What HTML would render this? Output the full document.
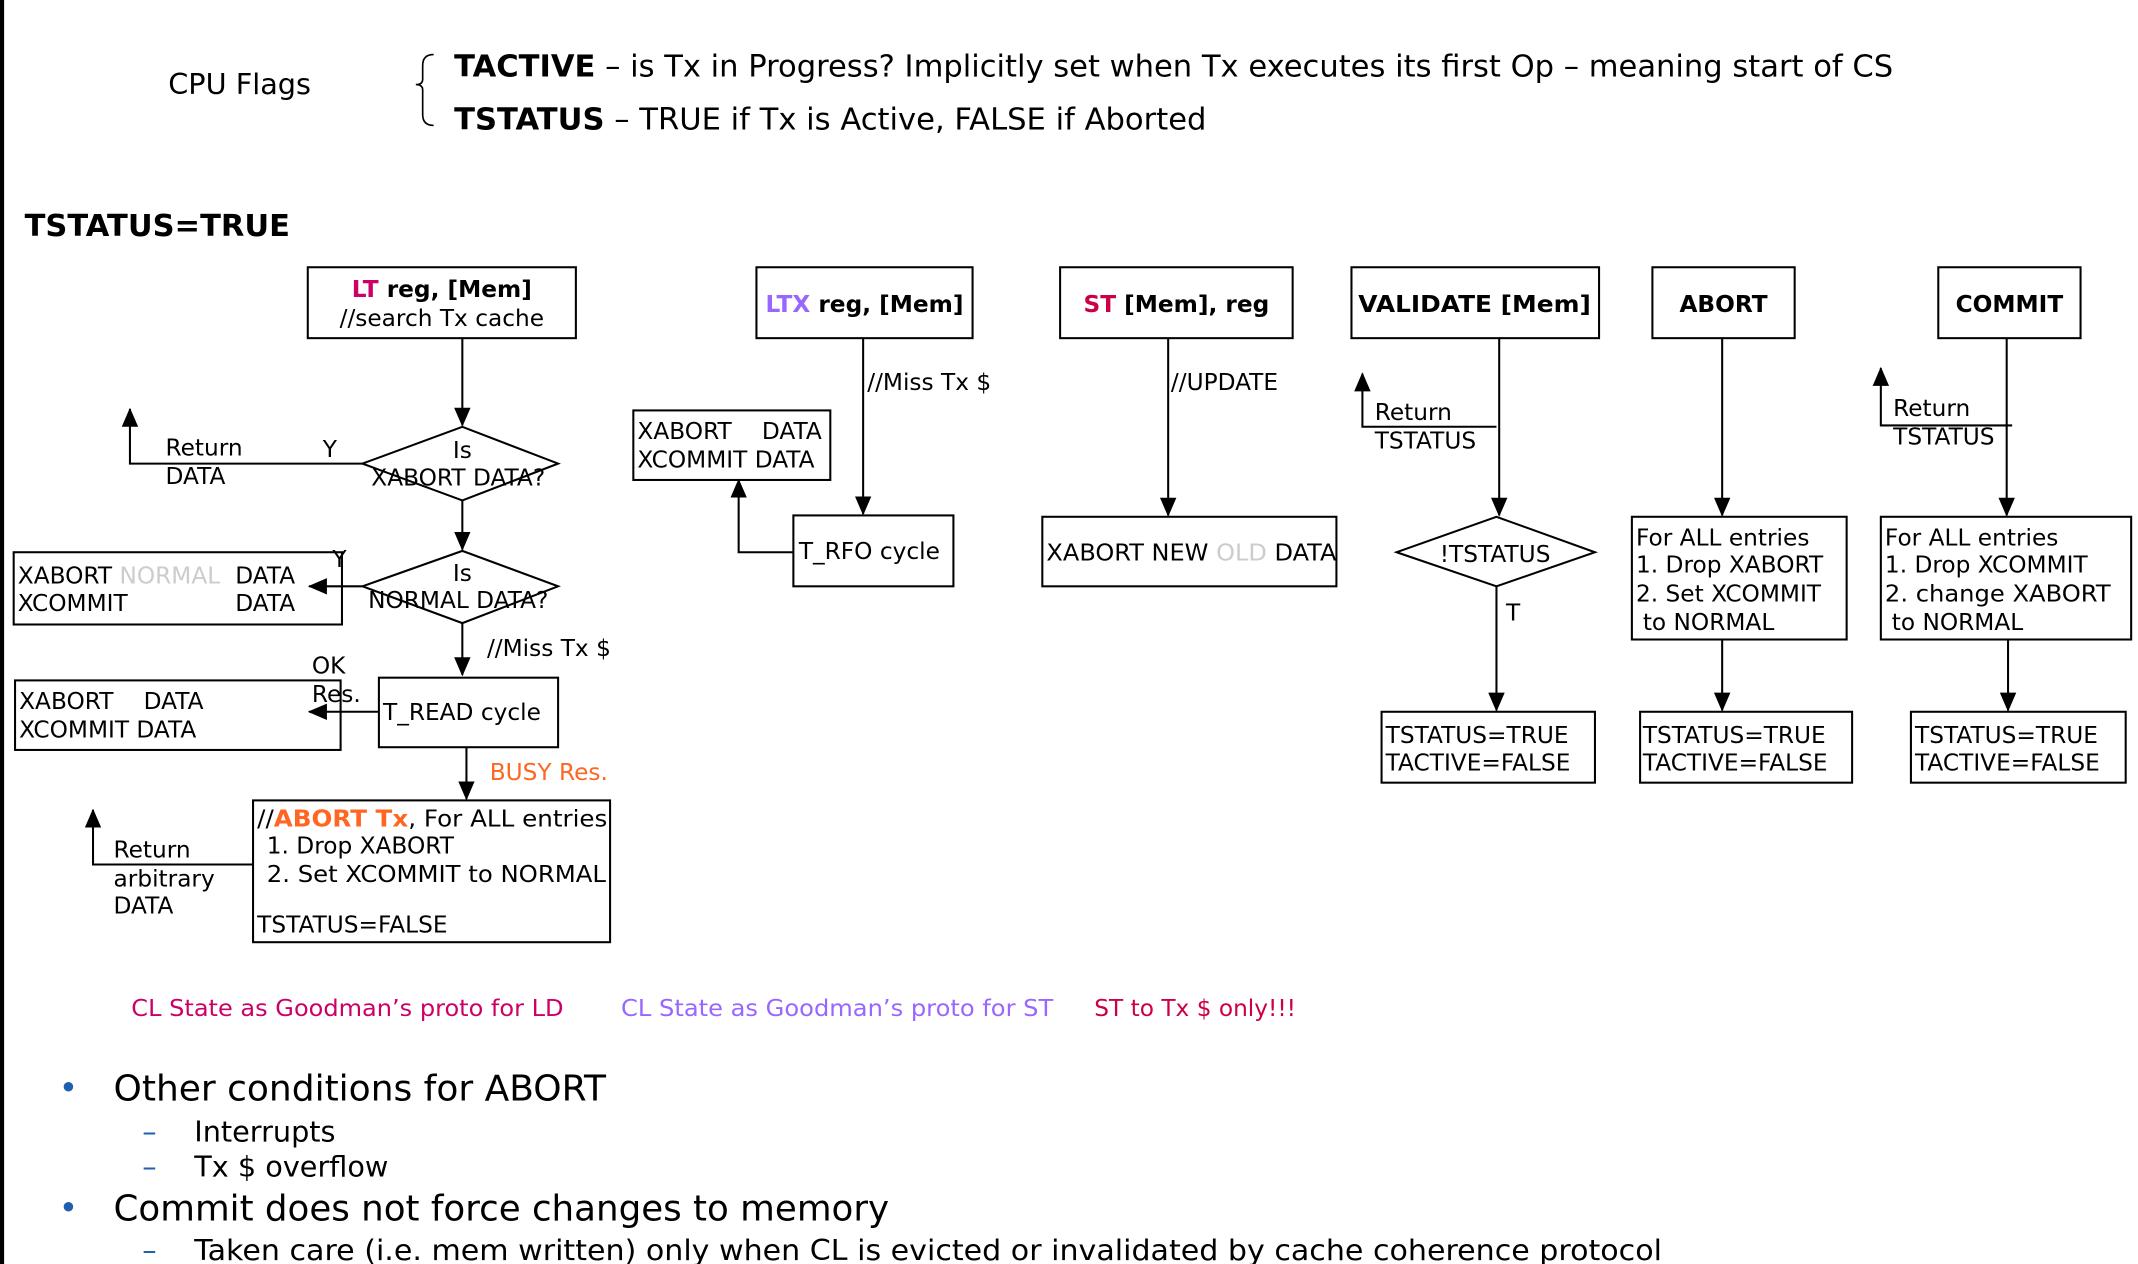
<!DOCTYPE html>
<html><head><meta charset="utf-8"><style>
html,body{margin:0;padding:0;background:#fff;width:2138px;height:1264px;overflow:hidden}
svg{display:block}
text{font-family:"DejaVu Sans","Liberation Sans",sans-serif}
.b{font-weight:bold}
</style></head><body>
<svg width="2138" height="1264" viewBox="0 0 1563 927" preserveAspectRatio="none" xmlns="http://www.w3.org/2000/svg" fill="#000">
<defs><marker id="a" markerWidth="14" markerHeight="12" refX="13" refY="6" orient="auto" markerUnits="userSpaceOnUse"><path d="M0,0 L14,6 L0,12 z" fill="#000"/></marker></defs>
<rect x="0" y="0" width="3" height="927" fill="#000"/>
<g font-size="22">
<text x="123" y="69" font-size="21">CPU Flags</text>
<path d="M317,40 q-8,0 -8,8 v10 q0,4 -5,4 q5,0 5,4 v18 q0,8 8,8" fill="none" stroke="#000" stroke-width="1.2"/>
<text x="332" y="56" textLength="1052" lengthAdjust="spacingAndGlyphs"><tspan class="b">TACTIVE</tspan> – is Tx in Progress? Implicitly set when Tx executes its first Op – meaning start of CS</text>
<text x="332" y="95" textLength="550" lengthAdjust="spacingAndGlyphs"><tspan class="b">TSTATUS</tspan> – TRUE if Tx is Active, FALSE if Aborted</text>
<text x="18" y="173" class="b" textLength="194" lengthAdjust="spacingAndGlyphs">TSTATUS=TRUE</text>
</g>
<g fill="none" stroke="#000" stroke-width="1.5">
<rect x="225" y="196" width="196" height="52"/>
<rect x="553" y="196" width="158" height="52"/>
<rect x="775" y="196" width="170" height="52"/>
<rect x="988" y="196" width="181" height="52"/>
<rect x="1208" y="196" width="104" height="52"/>
<rect x="1417" y="196" width="104" height="52"/>
<polygon points="265,340 338,313 408,340 338,367"/>
<polygon points="265,430 338,404 408,430 338,457"/>
<rect x="10" y="405" width="240" height="53"/>
<rect x="277" y="497" width="131" height="51"/>
<rect x="11" y="499" width="238" height="51"/>
<rect x="185" y="587" width="261" height="104"/>
<rect x="463" y="301" width="144" height="51"/>
<rect x="580" y="378" width="117" height="52"/>
<rect x="762" y="379" width="215" height="51"/>
<polygon points="1021,405 1094,379 1166,405 1094,430"/>
<rect x="1010" y="522" width="156" height="52"/>
<rect x="1193" y="379" width="157" height="90"/>
<rect x="1199" y="522" width="155" height="52"/>
<rect x="1375" y="379" width="183" height="90"/>
<rect x="1397" y="522" width="157" height="52"/>
</g>
<g fill="none" stroke="#000" stroke-width="1.5" marker-end="url(#a)">
<path d="M338,248 V312"/>
<path d="M265,340 H95 V300"/>
<path d="M338,367 V403"/>
<path d="M265,430 H226"/>
<path d="M338,457 V495"/>
<path d="M277,522 H226"/>
<path d="M341,548 V586"/>
<path d="M185,634 H68 V594"/>
<path d="M631,248 V377"/>
<path d="M580,405 H540 V352"/>
<path d="M854,248 V378"/>
<path d="M1096,248 V378"/>
<path d="M1094,313 H996 V274"/>
<path d="M1094,430 V521"/>
<path d="M1259,248 V378"/>
<path d="M1259,469 V521"/>
<path d="M1467,248 V378"/>
<path d="M1471,312 H1375 V270"/>
<path d="M1468,469 V521"/>
</g>
<g font-size="17">
<text x="323" y="218" text-anchor="middle" class="b"><tspan fill="#cc0066">LT</tspan> reg, [Mem]</text>
<text x="323" y="239" text-anchor="middle">//search Tx cache</text>
<text x="338" y="336" text-anchor="middle">Is</text>
<text x="335" y="356" text-anchor="middle">XABORT DATA?</text>
<text x="121" y="334">Return</text>
<text x="121" y="355">DATA</text>
<text x="236" y="335">Y</text>
<text x="338" y="426" text-anchor="middle">Is</text>
<text x="335" y="446" text-anchor="middle">NORMAL DATA?</text>
<text x="243" y="416">Y</text>
<text x="13" y="428">XABORT <tspan fill="#ccc">NORMAL</tspan></text>
<text x="172" y="428">DATA</text>
<text x="13" y="448">XCOMMIT</text>
<text x="172" y="448">DATA</text>
<text x="356" y="481">//Miss Tx $</text>
<text x="280" y="528">T_READ cycle</text>
<text x="228" y="494">OK</text>
<text x="228" y="515">Res.</text>
<text x="14" y="520">XABORT</text><text x="105" y="520">DATA</text>
<text x="14" y="541">XCOMMIT DATA</text>
<text x="358" y="572" fill="#ff6622">BUSY Res.</text>
<text x="188" y="606" textLength="256" lengthAdjust="spacingAndGlyphs">//<tspan class="b" fill="#ff6622">ABORT Tx</tspan>, For ALL entries</text>
<text x="195" y="626">1. Drop XABORT</text>
<text x="195" y="647" textLength="248" lengthAdjust="spacingAndGlyphs">2. Set XCOMMIT to NORMAL</text>
<text x="188" y="684">TSTATUS=FALSE</text>
<text x="83" y="629">Return</text>
<text x="83" y="650">arbitrary</text>
<text x="83" y="670">DATA</text>
<text x="632" y="229" text-anchor="middle" class="b"><tspan fill="#9966ff">LTX</tspan> reg, [Mem]</text>
<text x="634" y="286">//Miss Tx $</text>
<text x="584" y="410">T_RFO cycle</text>
<text x="466" y="322">XABORT</text><text x="557" y="322">DATA</text>
<text x="466" y="343">XCOMMIT DATA</text>
<text x="860" y="229" text-anchor="middle" class="b"><tspan fill="#cc0044">ST</tspan> [Mem], reg</text>
<text x="856" y="286">//UPDATE</text>
<text x="765" y="411" textLength="212" lengthAdjust="spacingAndGlyphs">XABORT NEW <tspan fill="#ccc">OLD</tspan> DATA</text>
<text x="1078" y="229" text-anchor="middle" class="b" textLength="170" lengthAdjust="spacingAndGlyphs">VALIDATE [Mem]</text>
<text x="1005" y="308">Return</text>
<text x="1005" y="329">TSTATUS</text>
<text x="1093" y="412" text-anchor="middle">!TSTATUS</text>
<text x="1101" y="455">T</text>
<text x="1013" y="545">TSTATUS=TRUE</text>
<text x="1013" y="565">TACTIVE=FALSE</text>
<text x="1260" y="229" text-anchor="middle" class="b">ABORT</text>
<text x="1196" y="400">For ALL entries</text>
<text x="1196" y="420">1. Drop XABORT</text>
<text x="1196" y="441">2. Set XCOMMIT</text>
<text x="1201" y="462">to NORMAL</text>
<text x="1201" y="545">TSTATUS=TRUE</text>
<text x="1201" y="565">TACTIVE=FALSE</text>
<text x="1469" y="229" text-anchor="middle" class="b">COMMIT</text>
<text x="1384" y="305">Return</text>
<text x="1384" y="326">TSTATUS</text>
<text x="1378" y="400">For ALL entries</text>
<text x="1378" y="420">1. Drop XCOMMIT</text>
<text x="1378" y="441" textLength="165" lengthAdjust="spacingAndGlyphs">2. change XABORT</text>
<text x="1383" y="462">to NORMAL</text>
<text x="1400" y="545">TSTATUS=TRUE</text>
<text x="1400" y="565">TACTIVE=FALSE</text>
<text x="96" y="745" fill="#cc0066" textLength="316" lengthAdjust="spacingAndGlyphs">CL State as Goodman’s proto for LD</text>
<text x="454" y="745" fill="#9966ff" textLength="316" lengthAdjust="spacingAndGlyphs">CL State as Goodman’s proto for ST</text>
<text x="800" y="745" fill="#cc0044">ST to Tx $ only!!!</text>
</g>
<g>
<text x="43" y="806" font-size="24" fill="#1f5fb0">•</text>
<text x="83" y="807" font-size="26" textLength="360" lengthAdjust="spacingAndGlyphs">Other conditions for ABORT</text>
<text x="104" y="837" font-size="21" fill="#1f5fb0">–</text>
<text x="142" y="837" font-size="21">Interrupts</text>
<text x="104" y="863" font-size="21" fill="#1f5fb0">–</text>
<text x="142" y="863" font-size="21">Tx $ overflow</text>
<text x="43" y="894" font-size="24" fill="#1f5fb0">•</text>
<text x="83" y="895" font-size="26" textLength="567" lengthAdjust="spacingAndGlyphs">Commit does not force changes to memory</text>
<text x="104" y="924" font-size="21" fill="#1f5fb0">–</text>
<text x="142" y="924" font-size="21" textLength="1073" lengthAdjust="spacingAndGlyphs">Taken care (i.e. mem written) only when CL is evicted or invalidated by cache coherence protocol</text>
</g>
</svg>
</body></html>
